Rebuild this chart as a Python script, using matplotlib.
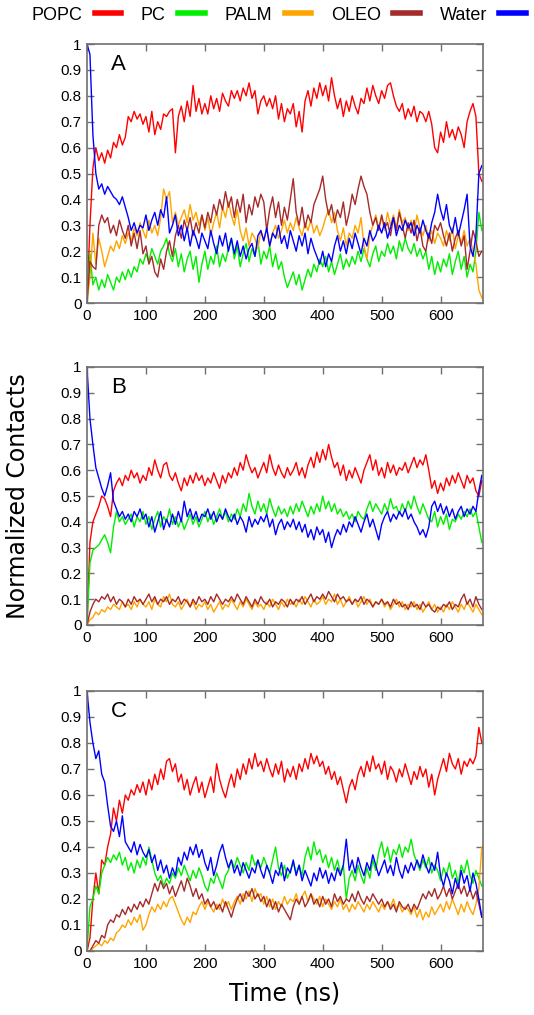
import numpy as np
import matplotlib
matplotlib.use("Agg")
import matplotlib.pyplot as plt
from matplotlib.ticker import FuncFormatter

# time axis (ns), one sample every 5 ns
time_ns = np.arange(0, 671, 5)

names = ['POPC', 'PC', 'PALM', 'OLEO', 'Water']
colors = ['#ff0000', '#00ee00', '#ffa500', '#a52a2a', '#0000ff']
panel_tags = ['A', 'B', 'C']

# ---- panel A ----
a_popc = [0.00, 0.30, 0.52, 0.60, 0.55, 0.58, 0.54, 0.59, 0.56, 0.62,
          0.60, 0.65, 0.61, 0.64, 0.72, 0.70, 0.74, 0.71, 0.73, 0.69,
          0.72, 0.66, 0.74, 0.65, 0.70, 0.67, 0.73, 0.72, 0.74, 0.75,
          0.58, 0.72, 0.76, 0.70, 0.78, 0.72, 0.84, 0.74, 0.79, 0.73,
          0.77, 0.73, 0.80, 0.75, 0.79, 0.74, 0.81, 0.78, 0.76, 0.82,
          0.79, 0.82, 0.78, 0.83, 0.80, 0.85, 0.79, 0.82, 0.73, 0.78,
          0.80, 0.76, 0.79, 0.75, 0.80, 0.71, 0.77, 0.70, 0.75, 0.73,
          0.77, 0.68, 0.74, 0.66, 0.78, 0.82, 0.76, 0.83, 0.79, 0.85,
          0.80, 0.84, 0.78, 0.87, 0.80, 0.75, 0.79, 0.72, 0.78, 0.74,
          0.80, 0.76, 0.73, 0.79, 0.77, 0.83, 0.78, 0.84, 0.80, 0.77,
          0.82, 0.79, 0.84, 0.85, 0.80, 0.76, 0.74, 0.77, 0.71, 0.75,
          0.72, 0.76, 0.70, 0.74, 0.73, 0.70, 0.74, 0.69, 0.60, 0.58,
          0.66, 0.62, 0.70, 0.64, 0.67, 0.63, 0.68, 0.65, 0.60, 0.70,
          0.74, 0.77, 0.72, 0.50, 0.47]
a_pc = [0.00, 0.19, 0.07, 0.10, 0.05, 0.09, 0.06, 0.11, 0.08, 0.05,
        0.10, 0.08, 0.12, 0.09, 0.13, 0.10, 0.14, 0.12, 0.17, 0.15,
        0.19, 0.16, 0.21, 0.18, 0.15, 0.20, 0.22, 0.25, 0.19, 0.16,
        0.21, 0.14, 0.19, 0.12, 0.17, 0.20, 0.13, 0.18, 0.08, 0.15,
        0.20, 0.13, 0.18, 0.15, 0.22, 0.14, 0.19, 0.16, 0.21, 0.25,
        0.17, 0.22, 0.14, 0.19, 0.23, 0.16, 0.21, 0.18, 0.24, 0.15,
        0.20, 0.17, 0.22, 0.14, 0.19, 0.13, 0.16, 0.10, 0.06, 0.09,
        0.12, 0.07, 0.11, 0.05, 0.09, 0.13, 0.10, 0.15, 0.12, 0.17,
        0.14, 0.18, 0.12, 0.16, 0.11, 0.15, 0.19, 0.13, 0.17, 0.14,
        0.18, 0.15, 0.20, 0.16, 0.21, 0.17, 0.14, 0.19, 0.22, 0.16,
        0.20, 0.18, 0.23, 0.19, 0.22, 0.17, 0.24, 0.20, 0.25, 0.21,
        0.19, 0.23, 0.18, 0.21, 0.17, 0.20, 0.13, 0.18, 0.11, 0.16,
        0.12, 0.17, 0.14, 0.19, 0.11, 0.16, 0.20, 0.13, 0.18, 0.10,
        0.15, 0.12, 0.20, 0.35, 0.28]
a_palm = [0.00, 0.10, 0.27, 0.15, 0.25, 0.20, 0.14, 0.18, 0.22, 0.20,
          0.24, 0.21, 0.26, 0.23, 0.27, 0.24, 0.29, 0.26, 0.31, 0.28,
          0.25, 0.32, 0.27, 0.30, 0.26, 0.33, 0.44, 0.40, 0.43, 0.31,
          0.35, 0.30, 0.33, 0.36, 0.31, 0.38, 0.32, 0.35, 0.30, 0.34,
          0.28, 0.33, 0.26, 0.31, 0.35, 0.29, 0.37, 0.33, 0.39, 0.34,
          0.30, 0.36, 0.28, 0.24, 0.29, 0.22, 0.27, 0.25, 0.21, 0.28,
          0.24, 0.29, 0.22, 0.27, 0.30, 0.25, 0.28, 0.32, 0.27, 0.31,
          0.28, 0.33, 0.29, 0.26, 0.31, 0.28, 0.32, 0.27, 0.30, 0.26,
          0.29, 0.33, 0.36, 0.31, 0.35, 0.28, 0.24, 0.29, 0.22, 0.27,
          0.25, 0.30, 0.27, 0.33, 0.22, 0.17, 0.26, 0.30, 0.34, 0.29,
          0.33, 0.28, 0.35, 0.30, 0.34, 0.29, 0.36, 0.31, 0.33, 0.28,
          0.32, 0.27, 0.34, 0.29, 0.26, 0.30, 0.24, 0.28, 0.23, 0.27,
          0.25, 0.22, 0.28, 0.24, 0.29, 0.21, 0.26, 0.23, 0.28, 0.22,
          0.25, 0.20, 0.15, 0.05, 0.02]
a_oleo = [0.00, 0.16, 0.14, 0.13, 0.30, 0.34, 0.31, 0.33, 0.27, 0.30,
          0.26, 0.32, 0.28, 0.25, 0.30, 0.22, 0.27, 0.21, 0.28, 0.19,
          0.22, 0.15, 0.18, 0.12, 0.10, 0.17, 0.13, 0.20, 0.24, 0.18,
          0.26, 0.30, 0.25, 0.32, 0.28, 0.33, 0.26, 0.31, 0.27, 0.34,
          0.29, 0.35, 0.31, 0.38, 0.34, 0.40, 0.36, 0.43, 0.37, 0.41,
          0.33, 0.40, 0.35, 0.42, 0.31, 0.38, 0.34, 0.41, 0.37, 0.42,
          0.39, 0.28, 0.36, 0.41, 0.33, 0.39, 0.30, 0.37, 0.32, 0.40,
          0.48, 0.35, 0.30, 0.37, 0.29, 0.34, 0.31, 0.38, 0.41, 0.44,
          0.49, 0.40, 0.34, 0.38, 0.31, 0.36, 0.33, 0.39, 0.30, 0.35,
          0.42, 0.38, 0.44, 0.49, 0.45, 0.42, 0.35, 0.30, 0.33, 0.28,
          0.34, 0.29, 0.31, 0.26, 0.33, 0.28, 0.35, 0.30, 0.25, 0.31,
          0.27, 0.32, 0.24, 0.29, 0.22, 0.20, 0.27, 0.23, 0.30, 0.28,
          0.31, 0.26, 0.22, 0.27, 0.20, 0.25, 0.28, 0.22, 0.26, 0.13,
          0.20, 0.28, 0.24, 0.18, 0.20]
a_water = [1.00, 0.96, 0.65, 0.50, 0.44, 0.46, 0.42, 0.45, 0.43, 0.41,
           0.40, 0.38, 0.41, 0.37, 0.33, 0.28, 0.31, 0.27, 0.30, 0.29,
           0.34, 0.28, 0.32, 0.35, 0.30, 0.36, 0.33, 0.41, 0.27, 0.30,
           0.34, 0.26, 0.30, 0.24, 0.29, 0.22, 0.28, 0.25, 0.21, 0.27,
           0.24, 0.21, 0.28, 0.23, 0.19, 0.26, 0.22, 0.27, 0.20, 0.25,
           0.19, 0.24, 0.18, 0.22, 0.17, 0.21, 0.23, 0.18, 0.26, 0.28,
           0.24, 0.29, 0.22, 0.27, 0.25, 0.30, 0.23, 0.26, 0.21, 0.28,
           0.24, 0.20, 0.26, 0.22, 0.27, 0.19, 0.25, 0.21, 0.18, 0.15,
           0.20, 0.14, 0.19, 0.16, 0.22, 0.26, 0.20, 0.24, 0.19, 0.25,
           0.21, 0.27, 0.23, 0.19, 0.25, 0.22, 0.28, 0.24, 0.26, 0.30,
           0.27, 0.31, 0.25, 0.29, 0.33, 0.26, 0.30, 0.28, 0.32, 0.29,
           0.31, 0.26, 0.30, 0.27, 0.32, 0.28, 0.25, 0.31, 0.35, 0.42,
           0.36, 0.32, 0.38, 0.30, 0.27, 0.33, 0.26, 0.31, 0.36, 0.42,
           0.22, 0.18, 0.26, 0.50, 0.53]

# ---- panel B ----
b_popc = [0.00, 0.32, 0.40, 0.43, 0.46, 0.50, 0.49, 0.46, 0.42, 0.52,
          0.55, 0.57, 0.54, 0.58, 0.56, 0.60, 0.57, 0.59, 0.55, 0.58,
          0.56, 0.61, 0.58, 0.64, 0.60, 0.57, 0.62, 0.63, 0.58, 0.56,
          0.59, 0.55, 0.52, 0.57, 0.54, 0.58, 0.55, 0.59, 0.56, 0.58,
          0.54, 0.57, 0.55, 0.59, 0.56, 0.53, 0.58, 0.55, 0.59, 0.57,
          0.61, 0.58, 0.63, 0.60, 0.66, 0.62, 0.59, 0.61, 0.57, 0.60,
          0.63, 0.59, 0.66, 0.61, 0.58, 0.62, 0.59, 0.57, 0.61, 0.58,
          0.60, 0.63, 0.58, 0.61, 0.57, 0.62, 0.65, 0.61, 0.67, 0.63,
          0.68, 0.64, 0.70, 0.65, 0.61, 0.63, 0.58, 0.62, 0.56, 0.60,
          0.57, 0.61, 0.58, 0.55, 0.60, 0.63, 0.66, 0.60, 0.64, 0.58,
          0.61, 0.57, 0.63, 0.59, 0.62, 0.58, 0.61, 0.60, 0.63, 0.59,
          0.62, 0.65, 0.61, 0.64, 0.62, 0.66, 0.60, 0.53, 0.56, 0.51,
          0.55, 0.52, 0.57, 0.54, 0.58, 0.55, 0.59, 0.56, 0.53, 0.58,
          0.55, 0.57, 0.52, 0.50, 0.56]
b_pc = [0.00, 0.24, 0.29, 0.30, 0.31, 0.33, 0.35, 0.32, 0.28, 0.38,
        0.44, 0.40, 0.42, 0.39, 0.41, 0.43, 0.38, 0.42, 0.40, 0.44,
        0.39, 0.42, 0.37, 0.41, 0.44, 0.38, 0.42, 0.40, 0.45, 0.39,
        0.42, 0.38, 0.41, 0.37, 0.40, 0.43, 0.39, 0.42, 0.38, 0.41,
        0.44, 0.40, 0.43, 0.39, 0.42, 0.45, 0.41, 0.44, 0.40, 0.43,
        0.41, 0.45, 0.42, 0.47, 0.44, 0.51, 0.46, 0.43, 0.48, 0.44,
        0.47, 0.43, 0.49, 0.45, 0.42, 0.46, 0.43, 0.45, 0.42, 0.46,
        0.43, 0.47, 0.44, 0.48, 0.45, 0.42, 0.46, 0.43, 0.47, 0.44,
        0.50, 0.45, 0.48, 0.44, 0.47, 0.43, 0.45, 0.42, 0.44, 0.41,
        0.43, 0.40, 0.44, 0.42, 0.41, 0.45, 0.48, 0.44, 0.47, 0.45,
        0.43, 0.47, 0.44, 0.49, 0.45, 0.46, 0.43, 0.47, 0.44, 0.48,
        0.45, 0.50, 0.46, 0.43, 0.47, 0.44, 0.41, 0.40, 0.44, 0.38,
        0.42, 0.39, 0.43, 0.37, 0.41, 0.40, 0.43, 0.41, 0.44, 0.42,
        0.45, 0.42, 0.44, 0.38, 0.32]
b_palm = [0.00, 0.02, 0.03, 0.05, 0.04, 0.06, 0.05, 0.07, 0.06, 0.08,
          0.07, 0.06, 0.09, 0.07, 0.08, 0.06, 0.09, 0.07, 0.10, 0.08,
          0.07, 0.09, 0.06, 0.10, 0.08, 0.07, 0.11, 0.09, 0.12, 0.08,
          0.07, 0.09, 0.06, 0.08, 0.10, 0.07, 0.09, 0.06, 0.08, 0.07,
          0.09, 0.06, 0.08, 0.05, 0.07, 0.09, 0.06, 0.08, 0.07, 0.10,
          0.08, 0.06, 0.09, 0.07, 0.10, 0.08, 0.06, 0.09, 0.07, 0.08,
          0.06, 0.09, 0.07, 0.10, 0.08, 0.06, 0.09, 0.07, 0.10, 0.08,
          0.09, 0.07, 0.10, 0.08, 0.11, 0.09, 0.07, 0.10, 0.08, 0.09,
          0.11, 0.08, 0.10, 0.09, 0.12, 0.08, 0.10, 0.07, 0.09, 0.11,
          0.08, 0.10, 0.07, 0.09, 0.11, 0.08, 0.10, 0.07, 0.09, 0.08,
          0.10, 0.07, 0.09, 0.06, 0.08, 0.10, 0.07, 0.09, 0.06, 0.08,
          0.07, 0.09, 0.06, 0.08, 0.05, 0.07, 0.09, 0.06, 0.08, 0.05,
          0.07, 0.05, 0.08, 0.06, 0.09, 0.07, 0.05, 0.08, 0.06, 0.09,
          0.07, 0.05, 0.08, 0.06, 0.04]
b_oleo = [0.00, 0.05, 0.08, 0.10, 0.09, 0.11, 0.10, 0.12, 0.09, 0.11,
          0.08, 0.10, 0.09, 0.07, 0.10, 0.08, 0.11, 0.09, 0.10, 0.08,
          0.10, 0.12, 0.09, 0.11, 0.08, 0.10, 0.09, 0.11, 0.08, 0.10,
          0.09, 0.11, 0.08, 0.10, 0.09, 0.07, 0.10, 0.08, 0.11, 0.09,
          0.10, 0.08, 0.11, 0.09, 0.12, 0.10, 0.08, 0.10, 0.09, 0.11,
          0.09, 0.12, 0.10, 0.08, 0.11, 0.09, 0.07, 0.10, 0.08, 0.11,
          0.09, 0.08, 0.10, 0.07, 0.09, 0.08, 0.10, 0.09, 0.07, 0.10,
          0.08, 0.10, 0.09, 0.11, 0.08, 0.10, 0.12, 0.09, 0.11, 0.10,
          0.12, 0.10, 0.13, 0.11, 0.09, 0.12, 0.10, 0.11, 0.09, 0.10,
          0.08, 0.10, 0.09, 0.11, 0.08, 0.10, 0.09, 0.07, 0.09, 0.08,
          0.10, 0.08, 0.09, 0.07, 0.10, 0.08, 0.09, 0.07, 0.08, 0.06,
          0.09, 0.07, 0.08, 0.06, 0.09, 0.07, 0.08, 0.06, 0.05, 0.07,
          0.06, 0.08, 0.07, 0.09, 0.06, 0.08, 0.07, 0.10, 0.12, 0.08,
          0.10, 0.07, 0.11, 0.08, 0.06]
b_water = [1.00, 0.80, 0.70, 0.61, 0.57, 0.53, 0.50, 0.54, 0.59, 0.48,
           0.45, 0.42, 0.44, 0.41, 0.43, 0.40, 0.44, 0.42, 0.45, 0.41,
           0.43, 0.38, 0.42, 0.36, 0.40, 0.44, 0.37, 0.41, 0.38, 0.43,
           0.39, 0.44, 0.40, 0.48, 0.42, 0.45, 0.41, 0.44, 0.40, 0.43,
           0.42, 0.45, 0.41, 0.44, 0.40, 0.43, 0.41, 0.45, 0.42, 0.40,
           0.43, 0.39, 0.42, 0.40, 0.36, 0.42, 0.38, 0.41, 0.39, 0.42,
           0.40, 0.43, 0.38, 0.41, 0.35, 0.39, 0.41, 0.37, 0.40, 0.38,
           0.41, 0.37, 0.40, 0.36, 0.39, 0.34, 0.37, 0.33, 0.38, 0.35,
           0.37, 0.32, 0.36, 0.30, 0.34, 0.37, 0.35, 0.39, 0.36, 0.40,
           0.38, 0.42, 0.39, 0.36, 0.40, 0.43, 0.38, 0.41, 0.37, 0.33,
           0.39, 0.42, 0.44, 0.40, 0.43, 0.41, 0.44, 0.42, 0.45, 0.41,
           0.43, 0.40, 0.38, 0.35, 0.37, 0.34, 0.38, 0.46, 0.48, 0.44,
           0.47, 0.43, 0.46, 0.42, 0.45, 0.41, 0.44, 0.46, 0.42, 0.45,
           0.43, 0.46, 0.44, 0.52, 0.58]

# ---- panel C ----
c_popc = [0.00, 0.05, 0.20, 0.30, 0.22, 0.35, 0.33, 0.40, 0.45, 0.55,
          0.50, 0.58, 0.53, 0.60, 0.58, 0.62, 0.60, 0.64, 0.61, 0.65,
          0.60, 0.66, 0.62, 0.68, 0.64, 0.70, 0.66, 0.73, 0.74, 0.69,
          0.72, 0.65, 0.68, 0.62, 0.66, 0.60, 0.64, 0.67, 0.61, 0.65,
          0.59, 0.63, 0.67, 0.61, 0.72, 0.66, 0.62, 0.59, 0.64, 0.68,
          0.63, 0.70, 0.66, 0.72, 0.68, 0.74, 0.70, 0.76, 0.71, 0.73,
          0.69, 0.74, 0.70, 0.67, 0.72, 0.68, 0.73, 0.65, 0.70, 0.67,
          0.71, 0.66, 0.72, 0.69, 0.74, 0.70, 0.76, 0.72, 0.75, 0.71,
          0.73, 0.68, 0.71, 0.66, 0.69, 0.64, 0.67, 0.62, 0.57, 0.63,
          0.66, 0.62, 0.68, 0.71, 0.67, 0.73, 0.69, 0.75, 0.70, 0.72,
          0.68, 0.73, 0.66, 0.71, 0.69, 0.65, 0.70, 0.67, 0.72, 0.68,
          0.64, 0.69, 0.66, 0.71, 0.67, 0.70, 0.63, 0.68, 0.60, 0.66,
          0.70, 0.74, 0.69, 0.76, 0.72, 0.70, 0.74, 0.68, 0.73, 0.71,
          0.74, 0.72, 0.75, 0.86, 0.80]
c_pc = [0.00, 0.17, 0.20, 0.25, 0.22, 0.30, 0.33, 0.36, 0.34, 0.37,
        0.35, 0.38, 0.33, 0.36, 0.31, 0.34, 0.30, 0.35, 0.32, 0.36,
        0.33, 0.40, 0.35, 0.30, 0.27, 0.29, 0.25, 0.28, 0.26, 0.30,
        0.28, 0.32, 0.29, 0.33, 0.30, 0.27, 0.31, 0.28, 0.32, 0.29,
        0.25, 0.23, 0.28, 0.26, 0.30, 0.27, 0.24, 0.29, 0.31, 0.35,
        0.32, 0.36, 0.33, 0.30, 0.34, 0.31, 0.37, 0.33, 0.35, 0.32,
        0.36, 0.33, 0.30, 0.35, 0.40, 0.32, 0.29, 0.33, 0.28, 0.31,
        0.34, 0.30, 0.33, 0.29, 0.36, 0.40, 0.35, 0.42, 0.37, 0.39,
        0.34, 0.37, 0.32, 0.36, 0.31, 0.35, 0.30, 0.33, 0.20, 0.28,
        0.31, 0.27, 0.33, 0.29, 0.26, 0.32, 0.28, 0.35, 0.31, 0.38,
        0.42, 0.36, 0.40, 0.34, 0.39, 0.37, 0.41, 0.36, 0.40, 0.38,
        0.43, 0.37, 0.34, 0.31, 0.35, 0.32, 0.36, 0.30, 0.33, 0.31,
        0.27, 0.32, 0.29, 0.34, 0.28, 0.31, 0.26, 0.33, 0.30, 0.35,
        0.29, 0.26, 0.31, 0.28, 0.25]
c_palm = [0.00, 0.00, 0.01, 0.02, 0.03, 0.02, 0.04, 0.03, 0.05, 0.04,
          0.07, 0.08, 0.10, 0.09, 0.12, 0.10, 0.13, 0.11, 0.14, 0.08,
          0.10, 0.14, 0.17, 0.15, 0.18, 0.16, 0.19, 0.17, 0.20, 0.21,
          0.18, 0.15, 0.12, 0.10, 0.13, 0.11, 0.15, 0.14, 0.17, 0.19,
          0.16, 0.19, 0.17, 0.15, 0.18, 0.16, 0.20, 0.17, 0.19, 0.16,
          0.19, 0.21, 0.18, 0.22, 0.20, 0.23, 0.19, 0.24, 0.21, 0.22,
          0.18, 0.21, 0.17, 0.20, 0.16, 0.19, 0.17, 0.21, 0.18, 0.20,
          0.19, 0.22, 0.18, 0.21, 0.23, 0.19, 0.22, 0.20, 0.18, 0.21,
          0.17, 0.20, 0.18, 0.16, 0.19, 0.17, 0.20, 0.16, 0.18, 0.15,
          0.18, 0.16, 0.19, 0.17, 0.15, 0.18, 0.16, 0.19, 0.17, 0.15,
          0.18, 0.16, 0.19, 0.17, 0.20, 0.16, 0.18, 0.15, 0.17, 0.16,
          0.14, 0.17, 0.13, 0.16, 0.12, 0.15, 0.13, 0.17, 0.14, 0.16,
          0.18, 0.15, 0.19, 0.16, 0.20, 0.17, 0.14, 0.18, 0.15, 0.19,
          0.16, 0.14, 0.18, 0.24, 0.40]
c_oleo = [0.00, 0.00, 0.02, 0.04, 0.03, 0.06, 0.05, 0.10, 0.12, 0.11,
          0.14, 0.13, 0.16, 0.14, 0.17, 0.15, 0.18, 0.16, 0.19, 0.17,
          0.20, 0.18, 0.22, 0.26, 0.23, 0.27, 0.24, 0.26, 0.22, 0.25,
          0.21, 0.24, 0.27, 0.23, 0.28, 0.25, 0.21, 0.24, 0.20, 0.22,
          0.18, 0.20, 0.17, 0.19, 0.16, 0.18, 0.15, 0.19, 0.16, 0.13,
          0.17, 0.20, 0.22, 0.19, 0.23, 0.21, 0.24, 0.20, 0.22, 0.19,
          0.21, 0.17, 0.20, 0.16, 0.19, 0.15, 0.18, 0.16, 0.14, 0.12,
          0.17, 0.20, 0.18, 0.21, 0.17, 0.19, 0.22, 0.18, 0.20, 0.17,
          0.21, 0.18, 0.20, 0.17, 0.22, 0.19, 0.21, 0.18, 0.20, 0.19,
          0.22, 0.19, 0.23, 0.20, 0.18, 0.21, 0.19, 0.22, 0.20, 0.18,
          0.20, 0.17, 0.19, 0.16, 0.18, 0.15, 0.19, 0.17, 0.16, 0.18,
          0.15, 0.18, 0.16, 0.19, 0.22, 0.20, 0.23, 0.21, 0.24, 0.20,
          0.22, 0.25, 0.21, 0.24, 0.20, 0.23, 0.26, 0.22, 0.25, 0.21,
          0.24, 0.20, 0.23, 0.18, 0.13]
c_water = [1.00, 0.88, 0.80, 0.74, 0.77, 0.68, 0.65, 0.56, 0.48, 0.46,
           0.50, 0.44, 0.52, 0.42, 0.40, 0.38, 0.42, 0.37, 0.41, 0.38,
           0.36, 0.39, 0.34, 0.37, 0.31, 0.35, 0.30, 0.33, 0.28, 0.32,
           0.29, 0.36, 0.33, 0.38, 0.35, 0.40, 0.37, 0.41, 0.36, 0.39,
           0.34, 0.31, 0.36, 0.29, 0.33, 0.38, 0.41, 0.36, 0.32, 0.35,
           0.30, 0.33, 0.29, 0.34, 0.31, 0.28, 0.32, 0.30, 0.35, 0.31,
           0.28, 0.33, 0.30, 0.26, 0.31, 0.29, 0.34, 0.27, 0.32, 0.30,
           0.35, 0.29, 0.33, 0.27, 0.31, 0.28, 0.25, 0.30, 0.27, 0.32,
           0.28, 0.31, 0.26, 0.30, 0.27, 0.32, 0.29, 0.33, 0.43, 0.31,
           0.35, 0.30, 0.36, 0.32, 0.29, 0.34, 0.31, 0.37, 0.33, 0.29,
           0.32, 0.35, 0.30, 0.33, 0.29, 0.36, 0.31, 0.28, 0.33, 0.30,
           0.34, 0.31, 0.35, 0.32, 0.37, 0.33, 0.30, 0.34, 0.31, 0.38,
           0.29, 0.25, 0.30, 0.27, 0.22, 0.28, 0.24, 0.31, 0.26, 0.29,
           0.23, 0.30, 0.26, 0.20, 0.13]

panels = [
    [a_popc, a_pc, a_palm, a_oleo, a_water],
    [b_popc, b_pc, b_palm, b_oleo, b_water],
    [c_popc, c_pc, c_palm, c_oleo, c_water],
]

W, H = 534, 1015
fig = plt.figure(figsize=(W / 100, H / 100), dpi=100)

# axes boxes in pixels: (left, top, right, bottom)
boxes = [(87, 44, 483, 303), (87, 367, 483, 625), (87, 691, 483, 951)]
spine_col = '#707070'
fmt = FuncFormatter(lambda v, p: '{:g}'.format(round(v, 2)))

for (l, t, r, b), series, tag in zip(boxes, panels, panel_tags):
    ax = fig.add_axes([l / W, 1 - b / H, (r - l) / W, (b - t) / H])
    for vals, name, col in zip(series, names, colors):
        ax.plot(time_ns, vals, color=col, lw=1.0, label=name)
    ax.set_xlim(0, 672)
    ax.set_ylim(0, 1)
    ax.set_xticks(range(0, 601, 100))
    ax.set_yticks(np.arange(0, 1.01, 0.1))
    ax.yaxis.set_major_formatter(fmt)
    ax.tick_params(direction='in', top=True, right=True, length=5,
                   width=1, color=spine_col, labelsize=11, pad=4)
    for lab in ax.get_xticklabels() + ax.get_yticklabels():
        lab.set_family('Liberation Sans')
    for s in ax.spines.values():
        s.set_color(spine_col)
        s.set_linewidth(1.2)
    ax.text(0.06, 0.92, tag, transform=ax.transAxes, fontsize=16,
            family='Liberation Sans', va='center', ha='left')
    if tag == 'A':
        handles, labels = ax.get_legend_handles_labels()

leg = fig.legend(handles, labels, loc='center', ncol=5,
                 bbox_to_anchor=(0.5215, 1 - 15 / H), frameon=False,
                 markerfirst=False, handlelength=1.45, handletextpad=0.7,
                 columnspacing=1.1, prop={'family': 'Liberation Sans', 'size': 13})
for ln in leg.get_lines():
    ln.set_linewidth(4)

fig.text(18 / W, 1 - 496 / H, 'Normalized Contacts', rotation=90,
         ha='center', va='center', fontsize=17, family='DejaVu Sans')
fig.text(285 / W, 1 - 994 / H, 'Time (ns)', ha='center', va='center',
         fontsize=17, family='DejaVu Sans')

fig.savefig('out.png', dpi=100)
